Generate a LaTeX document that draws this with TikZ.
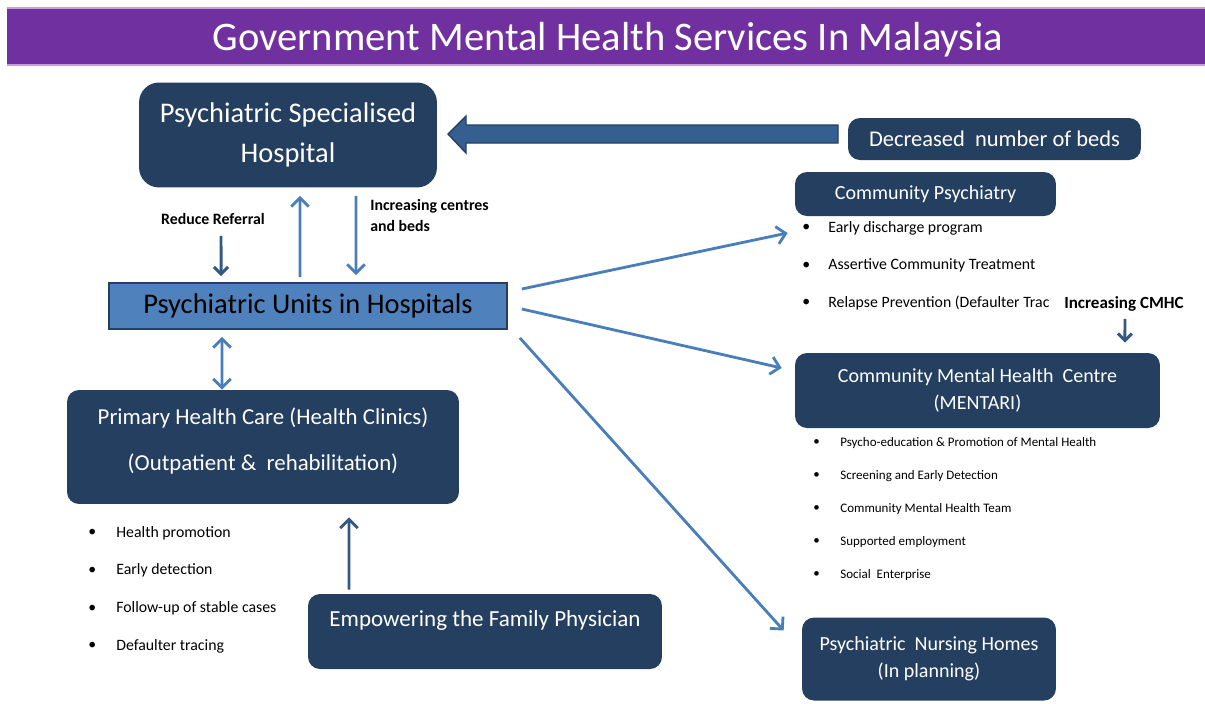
\documentclass[tikz,border=0pt]{standalone}
\usepackage{fontspec}
\setmainfont{Carlito}
\usetikzlibrary{arrows.meta}

\definecolor{navybox}{RGB}{36,63,96}
\definecolor{unitblue}{RGB}{79,129,189}
\definecolor{linkblue}{RGB}{74,126,187}
\definecolor{darklink}{RGB}{52,88,132}
\definecolor{blockblue}{RGB}{54,95,145}
\definecolor{titlepurple}{RGB}{112,48,160}

\begin{document}
\begin{tikzpicture}[x=0.02cm,y=-0.02cm,
    navyBox/.style={fill=navybox,text=white,rounded corners=6.8pt,inner sep=0pt,align=center},
    unitBox/.style={fill=unitblue,draw=navybox,line width=1pt,inner sep=0pt},
    link/.style={draw=linkblue,line width=1.6pt,-{Straight Barb[length=5pt,width=10pt]}},
    darkLink/.style={draw=darklink,line width=1.7pt,-{Straight Barb[length=4pt,width=8pt]}},
    itemText/.style={anchor=west,inner sep=0pt,font=\fontsize{9}{11}\selectfont},
    smallText/.style={anchor=west,inner sep=0pt,font=\fontsize{7.4}{9}\selectfont},
    note/.style={inner sep=0pt,font=\bfseries\fontsize{9}{12}\selectfont}]
        \useasboundingbox (0,0) rectangle (1205,704);

        % Draw the title bar
        \fill[titlepurple] (7,8) rectangle (1205,65);
        \draw[titlepurple!45,line width=1pt] (7,8) -- (1205,8);
        \draw[titlepurple!45,line width=1pt] (7,65) -- (1205,65);
        \node[text=white,inner sep=0pt,font=\fontsize{23.1}{26}\selectfont] (title) at (608,40) {Government Mental Health Services In Malaysia};

        % Draw the main boxes
        \node[navyBox,minimum width=5.96cm,minimum height=2.1cm,rounded corners=11.4pt,
              font=\fontsize{16.2}{22.8}\selectfont] (hospital) at (288,135) {Psychiatric Specialised\\Hospital};
        \node[navyBox,minimum width=5.86cm,minimum height=0.84cm,font=\fontsize{12.8}{15}\selectfont] (beds) at (994.5,139) {Decreased~ number of beds};
        \node[unitBox,minimum width=7.96cm,minimum height=0.92cm,font=\fontsize{16.2}{19}\selectfont] (units) at (308,306) {Psychiatric Units in Hospitals};
        \node[navyBox,minimum width=5.22cm,minimum height=0.88cm,font=\fontsize{11.4}{14}\selectfont] (cp) at (925.5,194) {Community Psychiatry};
        \node[navyBox,minimum width=7.3cm,minimum height=1.5cm,font=\fontsize{11.4}{15.4}\selectfont] (cmhc) at (977.5,390.5) {Community Mental Health~ Centre\\(MENTARI)};
        \node[navyBox,minimum width=5.08cm,minimum height=1.66cm,font=\fontsize{11.4}{15.4}\selectfont] (nursing) at (929,659) {Psychiatric~ Nursing Homes\\(In planning)};
        \node[navyBox,minimum width=7.84cm,minimum height=2.28cm] (primary) at (263,447) {};
        \node[text=white,align=center,inner sep=0pt,font=\fontsize{13}{26.2}\selectfont] (primaryText) at (263,441)
              {Primary Health Care (Health Clinics)\\(Outpatient \&~ rehabilitation)};
        \node[navyBox,minimum width=7.08cm,minimum height=1.5cm] (empower) at (485,631.5) {};
        \node[text=white,inner sep=0pt,font=\fontsize{13.1}{16}\selectfont] (empowerText) at (485,620) {Empowering the Family Physician};

        % Add the notes
        \node[note] (referral) at (213,219) {Reduce Referral};
        \node[note,anchor=west,align=left] (centres) at (370,215.5) {Increasing centres\\and beds};
        \node[note,font=\bfseries\fontsize{9.7}{12}\selectfont] (cmhcNote) at (1124,304) {Increasing CMHC};

        % Add the bullet lists
        \foreach \txt [count=\i] in {Early discharge program,Assertive Community Treatment,Relapse Prevention (Defaulter Trac}{
            \node[itemText] (cpDot\i) at (802,228+37.5*\i-37.5) {•};
            \node[itemText] (cpItem\i) at (828,228+37.5*\i-37.5) {\txt};
        }
        \foreach \txt [count=\i] in {Psycho-education \& Promotion of Mental Health,Screening and Early Detection,
                                     Community Mental Health Team,Supported employment,Social~ Enterprise}{
            \node[smallText] (cmhcDot\i) at (813,443+33*\i-33) {•};
            \node[smallText] (cmhcItem\i) at (840,443+33*\i-33) {\txt};
        }
        \foreach \txt [count=\i] in {Health promotion,Early detection,Follow-up of stable cases,Defaulter tracing}{
            \node[itemText] (phcDot\i) at (88,533+37.7*\i-37.7) {•};
            \node[itemText] (phcItem\i) at (116,533+37.7*\i-37.7) {\txt};
        }

        % Draw the block arrow from the beds to the hospital
        \filldraw[fill=blockblue,draw=navybox,line width=0.8pt]
            (838,125) -- (466,125) -- (466,116) -- (448,134) -- (466,153) -- (466,143) -- (838,143) -- cycle;

        % Draw the arrows
        \draw[link,shorten <=0.1cm,shorten >=0.16cm] ([xshift=-0.16cm]units.north) -- ([xshift=0.24cm]hospital.south);
        \draw[link,shorten <=0.16cm,shorten >=0.14cm] ([xshift=1.36cm]hospital.south) -- ([xshift=0.96cm]units.north);
        \draw[darkLink,shorten <=0.22cm,shorten >=0.12cm] ([xshift=0.16cm]referral.south) -- ([xshift=-1.74cm]units.north);
        \draw[link,{Straight Barb[length=5pt,width=10pt]}-{Straight Barb[length=5pt,width=10pt]},shorten <=0.14cm]
              ([xshift=-1.72cm]units.south) -- ([xshift=-0.82cm]primary.north);
        \draw[link,draw=darklink,shorten <=0.08cm,shorten >=0.26cm] ([xshift=-2.72cm]empower.north) -- ([xshift=1.72cm]primary.south);
        \draw[darkLink,shorten <=0.14cm,shorten >=0.2cm] ([xshift=0.02cm]cmhcNote.south) -- ([xshift=2.95cm]cmhc.north);
        \draw[link] ([xshift=0.28cm,yshift=0.34cm]units.east) -- ([xshift=-0.14cm,yshift=-0.78cm]cp.west);
        \draw[link] ([xshift=0.28cm,yshift=-0.06cm]units.east) -- ([xshift=-0.26cm,yshift=0.45cm]cmhc.west);
        \draw[link] ([xshift=0.24cm,yshift=-0.16cm]units.south east) -- ([xshift=-0.36cm,yshift=0.57cm]nursing.west);
    \end{tikzpicture}
\end{document}
